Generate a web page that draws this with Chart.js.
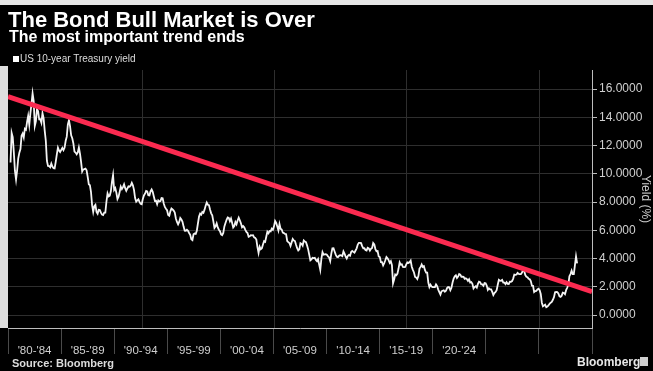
<!DOCTYPE html>
<html>
<head>
<meta charset="utf-8">
<script src="https://cdn.jsdelivr.net/npm/chart.js@4.4.0/dist/chart.umd.min.js"></script>
<style>
  html, body { margin: 0; padding: 0; background: #000; }
  #wrap { position: relative; width: 653px; height: 371px; background: #000; overflow: hidden; }
  #topstrip { position: absolute; left: 0; top: 0; width: 653px; height: 5px; background: #e6e6e6; }
  #leftstrip { position: absolute; left: 0; top: 66px; width: 8px; height: 262px; background: #dedede; }
  canvas { position: absolute; left: 0; top: 0; }
  .t { position: absolute; white-space: nowrap; font-family: "Liberation Sans", Arial, sans-serif; }
  #title { left: 8px; top: 9px; font-size: 22px; line-height: 22px; font-weight: bold; color: #fff; }
  #subtitle { left: 9px; top: 28.5px; font-size: 16px; line-height: 16px; font-weight: bold; color: #fff; }
  #legend { left: 20px; top: 54px; font-size: 10px; line-height: 10px; color: #ddd; }
  #legsq { position: absolute; left: 13px; top: 56px; width: 6px; height: 6px; background: #fff; }
  #source { left: 12px; top: 358px; font-size: 11px; line-height: 11px; font-weight: bold; color: #ddd; }
  #brand { left: 577px; top: 356px; font-size: 12px; line-height: 12px; font-weight: bold; color: #e8e8e8; }
  #logo { position: absolute; left: 640px; top: 357px; width: 8px; height: 9px; background: #cfcfcf; }
</style>
</head>
<body>
<div id="wrap">
  <div id="topstrip"></div>
  <div id="leftstrip"></div>
  <canvas id="c" width="653" height="371"></canvas>
  <div class="t" id="title">The Bond Bull Market is Over</div>
  <div class="t" id="subtitle">The most important trend ends</div>
  <div id="legsq"></div>
  <div class="t" id="legend">US 10-year Treasury yield</div>
  <div class="t" id="source">Source: Bloomberg</div>
  <div class="t" id="brand">Bloomberg</div>
  <div id="logo"></div>
</div>
<script>
// ---- Data: US 10-year Treasury yield (%), monthly ----
const startYear = 1980;
const y1980 = [10.8, 12.9, 12.6, 11.5, 10.2, 9.6, 10.25, 11.1, 11.5, 11.75, 12.7, 12.85];
const y1981 = [12.57, 13.19, 13.12, 13.68, 14.1, 13.47, 14.28, 14.94, 15.7, 15.15, 13.39, 13.72];
const y1982 = [14.59, 14.43, 13.86, 13.87, 13.62, 14.3, 13.95, 13.06, 12.34, 10.91, 10.55, 10.54];
const y1983 = [10.46, 10.72, 10.51, 10.4, 10.38, 10.85, 11.38, 11.85, 11.65, 11.54, 11.69, 11.83];
const y1984 = [11.67, 11.84, 12.32, 12.63, 13.5, 13.8, 13.36, 12.72, 12.52, 12.16, 11.57, 11.5];
const y1985 = [11.38, 11.51, 11.86, 11.43, 10.85, 10.16, 10.31, 10.33, 10.37, 10.24, 9.78, 9.26];
const y1986 = [9.19, 8.7, 7.78, 7.3, 7.71, 7.8, 7.3, 7.17, 7.45, 7.43, 7.25, 7.11];
const y1987 = [7.08, 7.25, 7.25, 8.02, 8.61, 8.4, 8.45, 8.76, 9.42, 9.9, 8.86, 8.99];
const y1988 = [8.67, 8.21, 8.37, 8.72, 9.09, 8.92, 9.06, 9.26, 8.98, 8.8, 8.96, 9.11];
const y1989 = [9.09, 9.17, 9.36, 9.18, 8.86, 8.28, 8.02, 8.11, 8.19, 8.01, 7.87, 7.84];
const y1990 = [8.21, 8.47, 8.59, 8.79, 8.76, 8.48, 8.47, 8.75, 8.89, 8.72, 8.39, 8.08];
const y1991 = [8.09, 7.85, 8.11, 8.04, 8.07, 8.28, 8.27, 7.9, 7.65, 7.53, 7.42, 7.09];
const y1992 = [7.03, 7.34, 7.54, 7.48, 7.39, 7.26, 6.84, 6.59, 6.42, 6.59, 6.87, 6.77];
const y1993 = [6.6, 6.26, 5.98, 5.97, 6.04, 5.96, 5.81, 5.68, 5.36, 5.3, 5.72, 5.77];
const y1994 = [5.75, 5.97, 6.48, 6.97, 7.18, 7.1, 7.3, 7.24, 7.46, 7.74, 7.96, 7.81];
const y1995 = [7.78, 7.47, 7.2, 7.06, 6.63, 6.17, 6.28, 6.49, 6.2, 6.04, 5.93, 5.71];
const y1996 = [5.65, 5.81, 6.27, 6.51, 6.74, 6.91, 6.87, 6.64, 6.83, 6.53, 6.2, 6.3];
const y1997 = [6.58, 6.42, 6.69, 6.89, 6.71, 6.49, 6.22, 6.3, 6.21, 6.03, 5.88, 5.81];
const y1998 = [5.54, 5.57, 5.65, 5.64, 5.65, 5.5, 5.46, 5.34, 4.81, 4.4, 4.83, 4.65];
const y1999 = [4.72, 5.0, 5.23, 5.18, 5.54, 5.9, 5.79, 5.94, 5.92, 6.11, 6.03, 6.28];
const y2000 = [6.66, 6.52, 6.26, 5.99, 6.44, 6.1, 6.05, 5.83, 5.8, 5.74, 5.72, 5.24];
const y2001 = [5.16, 5.1, 4.89, 5.14, 5.39, 5.28, 5.24, 4.97, 4.73, 4.57, 4.65, 5.09];
const y2002 = [5.04, 4.91, 5.28, 5.21, 5.16, 4.93, 4.65, 4.26, 3.87, 3.94, 4.05, 4.03];
const y2003 = [4.05, 3.9, 3.81, 3.96, 3.57, 3.2, 3.98, 4.45, 4.27, 4.29, 4.3, 4.27];
const y2004 = [4.15, 4.08, 3.83, 4.35, 4.72, 4.73, 4.5, 4.28, 4.13, 4.1, 4.19, 4.23];
const y2005 = [4.22, 4.17, 4.5, 4.34, 4.14, 4.0, 4.18, 4.26, 4.2, 4.46, 4.54, 4.47];
const y2006 = [4.42, 4.57, 4.72, 4.99, 5.11, 5.11, 5.09, 4.88, 4.72, 4.73, 4.6, 4.56];
const y2007 = [4.76, 4.72, 4.56, 4.69, 4.75, 5.1, 5.0, 4.67, 4.52, 4.53, 4.15, 4.1];
const y2008 = [3.74, 3.74, 3.51, 3.68, 3.88, 4.1, 4.01, 3.89, 3.69, 3.81, 3.53, 2.25];
const y2009 = [2.52, 2.87, 2.82, 2.93, 3.29, 3.72, 3.56, 3.59, 3.4, 3.39, 3.4, 3.59];
const y2010 = [3.73, 3.69, 3.73, 3.85, 3.42, 3.2, 3.01, 2.7, 2.65, 2.54, 2.76, 3.29];
const y2011 = [3.39, 3.58, 3.41, 3.46, 3.17, 3.0, 3.0, 2.3, 1.98, 2.15, 2.01, 1.98];
const y2012 = [1.97, 1.97, 2.17, 2.05, 1.8, 1.62, 1.45, 1.68, 1.72, 1.75, 1.65, 1.72];
const y2013 = [1.91, 1.98, 1.96, 1.76, 1.93, 2.3, 2.58, 2.74, 2.81, 2.62, 2.72, 2.9];
const y2014 = [2.86, 2.71, 2.72, 2.71, 2.56, 2.6, 2.54, 2.42, 2.53, 2.3, 2.33, 2.21];
const y2015 = [1.88, 1.98, 2.04, 1.94, 2.2, 2.36, 2.32, 2.17, 2.17, 2.07, 2.26, 2.24];
const y2016 = [2.09, 1.78, 1.89, 1.81, 1.81, 1.64, 1.42, 1.56, 1.63, 1.76, 2.14, 2.49];
const y2017 = [2.43, 2.42, 2.48, 2.3, 2.3, 2.19, 2.32, 2.21, 2.2, 2.36, 2.35, 2.4];
const y2018 = [2.58, 2.86, 2.84, 2.87, 2.98, 2.91, 2.89, 2.89, 3.0, 3.2, 3.12, 2.83];
const y2019 = [2.71, 2.68, 2.57, 2.53, 2.4, 2.07, 2.06, 1.63, 1.7, 1.71, 1.81, 1.86];
const y2020 = [1.76, 1.5, 0.87, 0.62, 0.67, 0.73, 0.55, 0.6, 0.68, 0.79, 0.87, 0.93];
const y2021 = [1.08, 1.26, 1.61, 1.64, 1.62, 1.52, 1.32, 1.28, 1.37, 1.58, 1.56, 1.47];
const y2022 = [1.76, 1.93, 2.13, 2.75, 2.9, 3.14, 2.9, 2.9, 3.52, 4.15, 3.65];

// Trend line endpoints (x in years, y in %)
const trendX = [1979.85, 2024.0];
const trendY = [15.46, 1.65];

// Axis ticks / labels
const periodLabels = ["'80-'84", "'85-'89", "'90-'94", "'95-'99", "'00-'04", "'05-'09", "'10-'14", "'15-'19", "'20-'24", "", ""];
const yTickValues = [0, 2, 4, 6, 8, 10, 12, 14, 16];
const decadeTicks = [1990, 2000, 2010, 2020];

const yearly = [y1980, y1981, y1982, y1983, y1984, y1985, y1986, y1987, y1988, y1989,
  y1990, y1991, y1992, y1993, y1994, y1995, y1996, y1997, y1998, y1999,
  y2000, y2001, y2002, y2003, y2004, y2005, y2006, y2007, y2008, y2009,
  y2010, y2011, y2012, y2013, y2014, y2015, y2016, y2017, y2018, y2019,
  y2020, y2021, y2022];
const yieldPoints = [];
yearly.forEach((arr, yi) => arr.forEach((v, m) => yieldPoints.push({ x: startYear + yi + (m + 0.5) / 12, y: v })));
const trendPoints = trendX.map((x, i) => ({ x: x, y: trendY[i] }));

const FONT = '"Liberation Sans", Arial, sans-serif';

new Chart(document.getElementById('c'), {
  type: 'line',
  data: {
    datasets: [
      { label: 'Trend', data: trendPoints, borderColor: '#fb2a50', borderWidth: 5, pointRadius: 0, order: 0, borderCapStyle: 'butt' },
      { label: 'US 10-year Treasury yield', data: yieldPoints, borderColor: '#f4f4f4', borderWidth: 1.8, pointRadius: 0, tension: 0, order: 1 }
    ]
  },
  options: {
    responsive: false,
    animation: false,
    layout: { padding: { left: 8, top: 70, right: 0, bottom: 0 } },
    plugins: { legend: { display: false }, tooltip: { enabled: false } },
    scales: {
      x: {
        type: 'linear', position: 'bottom', min: 1979.85, max: 2024.0,
        afterBuildTicks: s => { s.ticks = decadeTicks.map(v => ({ value: v })); },
        ticks: { display: false },
        grid: { color: '#2e2e2e', drawTicks: false, tickLength: 0 },
        border: { color: '#bdbdbd', width: 1 },
        afterFit: s => { s.height = 0; }
      },
      x2: {
        type: 'category', position: 'bottom', labels: periodLabels, offset: true,
        grid: { offset: true, drawOnChartArea: false, color: '#4a4a4a', tickLength: 26 },
        border: { display: false },
        ticks: { color: '#cfcfcf', font: { family: FONT, size: 11.5 }, padding: -10, maxRotation: 0, autoSkip: false },
        afterFit: s => { s.height = 43; }
      },
      y: {
        position: 'right', min: -0.92, max: 17.35,
        afterBuildTicks: s => { s.ticks = yTickValues.map(v => ({ value: v })); },
        ticks: { color: '#d0d0d0', font: { family: FONT, size: 12 }, padding: 2, callback: v => Number(v).toFixed(4) },
        grid: { color: '#2e2e2e', tickColor: '#bdbdbd', tickLength: 5 },
        border: { color: '#bdbdbd', width: 1 },
        title: { display: true, text: 'Yield (%)', color: '#d0d0d0', font: { family: FONT, size: 12 }, padding: 0 },
        afterFit: s => { s.width = 61; }
      }
    }
  }
});
</script>
</body>
</html>
